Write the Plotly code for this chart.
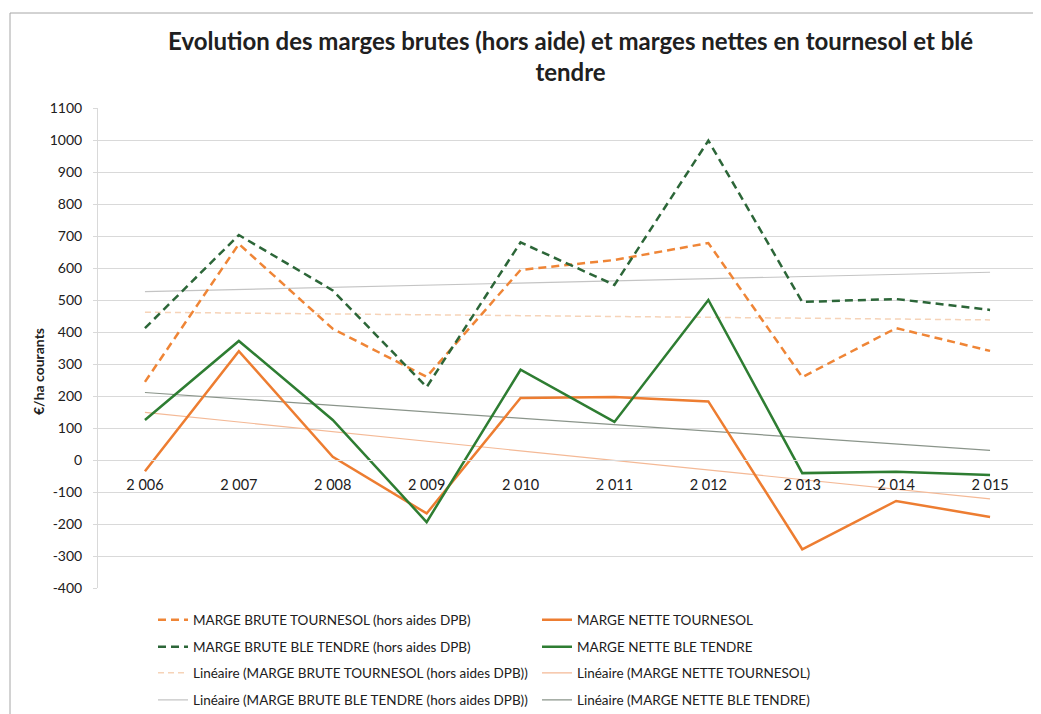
import numpy as np
import plotly.graph_objects as go

# ---------------- data ----------------
years = ["2 006", "2 007", "2 008", "2 009", "2 010", "2 011", "2 012", "2 013", "2 014", "2 015"]
brute_tournesol = [244, 675, 410, 260, 594, 625, 678, 259, 412, 341]
brute_ble = [412, 703, 530, 228, 680, 547, 998, 494, 503, 469]
nette_tournesol = [-35, 340, 10, -167, 194, 197, 183, -279, -128, -178]
nette_ble = [125, 372, 125, -194, 282, 119, 500, -41, -37, -47]
y_ticks = list(range(-400, 1101, 100))
y_tick_labels = [str(v) for v in y_ticks]

title_text = "Evolution des marges brutes (hors aide) et marges nettes en tournesol et blé<br>tendre"
y_title = "€/ha courants"

# ---------------- geometry (page px; the page body adds an 8px offset) ----------------
OFF = 8
W, H = 1041 - OFF, 714 - OFF
PLOT_L, PLOT_R, PLOT_T, PLOT_B = 98, 1037, 108, 588  # in page px
L, R, T, B = PLOT_L - OFF, W - (PLOT_R - OFF), PLOT_T - OFF, H - (PLOT_B - OFF)
PW, PH = W - L - R, H - T - B


def px_x(p):
    return (p - OFF - L) / PW


def px_y(p):
    return (H - B - (p - OFF)) / PH


FONT = "Lato, 'Open Sans', sans-serif"
TXT = "#202020"


def trend(vals):
    idx = np.arange(len(vals))
    a, b = np.polyfit(idx, np.array(vals, dtype=float), 1)
    return list(a * idx + b)


fig = go.Figure()

series = [
    ("MARGE BRUTE TOURNESOL (hors aides DPB)", brute_tournesol, dict(color="#EF8536", width=2.5, dash="8px,5px"), "legend", 1),
    ("MARGE NETTE TOURNESOL", nette_tournesol, dict(color="#ED7D31", width=2.5), "legend", 2),
    ("MARGE BRUTE BLE TENDRE (hors aides DPB)", brute_ble, dict(color="#2C6638", width=2.5, dash="8px,5px"), "legend2", 1),
    ("MARGE NETTE BLE TENDRE", nette_ble, dict(color="#2E7D32", width=2.5), "legend2", 2),
]
trends = [
    ("Linéaire (MARGE BRUTE TOURNESOL (hors aides DPB))", brute_tournesol, dict(color="#F6D3B8", width=1.5, dash="6px,4px"), "legend3", 1),
    ("Linéaire (MARGE NETTE TOURNESOL)", nette_tournesol, dict(color="#F4B996", width=1.2), "legend3", 2),
    ("Linéaire (MARGE BRUTE BLE TENDRE (hors aides DPB))", brute_ble, dict(color="#C4C4C4", width=1.2), "legend4", 1),
    ("Linéaire (MARGE NETTE BLE TENDRE)", nette_ble, dict(color="#8A948A", width=1.2), "legend4", 2),
]

for name, vals, line, lg, rank in trends:
    fig.add_trace(go.Scatter(x=years, y=trend(vals), mode="lines", name=name,
                             line=line, legend=lg, legendrank=rank, hoverinfo="skip"))
for name, vals, line, lg, rank in series:
    fig.add_trace(go.Scatter(x=years, y=vals, mode="lines", name=name,
                             line=line, legend=lg, legendrank=rank))

leg_common = dict(orientation="h", xanchor="left", yanchor="middle", x=px_x(153),
                  entrywidth=339, font=dict(family=FONT, size=13.5, color=TXT),
                  bgcolor="rgba(0,0,0,0)", traceorder="normal")
rows_px = [620, 647, 673, 700]

fig.update_layout(
    width=W, height=H,
    margin=dict(l=L, r=R, t=T, b=B, autoexpand=False),
    paper_bgcolor="white", plot_bgcolor="white",
    showlegend=True,
    legend=dict(leg_common, y=px_y(rows_px[0])),
    legend2=dict(leg_common, y=px_y(rows_px[1])),
    legend3=dict(leg_common, y=px_y(rows_px[2])),
    legend4=dict(leg_common, y=px_y(rows_px[3])),
    xaxis=dict(
        type="category", range=[-0.5, len(years) - 0.5],
        anchor="free", position=(0 - y_ticks[0]) / (y_ticks[-1] - y_ticks[0]),
        showgrid=False, showline=True, linecolor="#D9D9D9", linewidth=1,
        ticks="outside", ticklen=12, tickcolor="rgba(0,0,0,0)",
        tickfont=dict(family=FONT, size=14.5, color=TXT), zeroline=False,
    ),
    yaxis=dict(
        range=[y_ticks[0], y_ticks[-1]], tickvals=y_ticks, ticktext=y_tick_labels,
        showgrid=True, gridcolor="#D9D9D9", gridwidth=1,
        showline=True, linecolor="#D9D9D9", linewidth=1,
        ticks="outside", ticklen=4, tickcolor="#D9D9D9",
        ticklabelstandoff=8,
        tickfont=dict(family=FONT, size=14, color=TXT), zeroline=False,
    ),
    annotations=[
        dict(text=title_text, xref="paper", yref="paper", x=px_x(570), y=px_y(24),
             xanchor="center", yanchor="top", showarrow=False,
             font=dict(family=FONT, size=24, color=TXT, weight="bold")),
        dict(text=y_title, xref="paper", yref="paper", x=px_x(38), y=px_y(372),
             xanchor="center", yanchor="middle", textangle=-90, showarrow=False,
             font=dict(family=FONT, size=14, color=TXT, weight="bold")),
    ],
    shapes=[
        dict(type="rect", xref="paper", yref="paper", x0=px_x(10), x1=px_x(1060),
             y0=px_y(740), y1=px_y(13), line=dict(color="#A6A6A6", width=1), layer="below"),
    ],
)

fig.write_html("out.html")
